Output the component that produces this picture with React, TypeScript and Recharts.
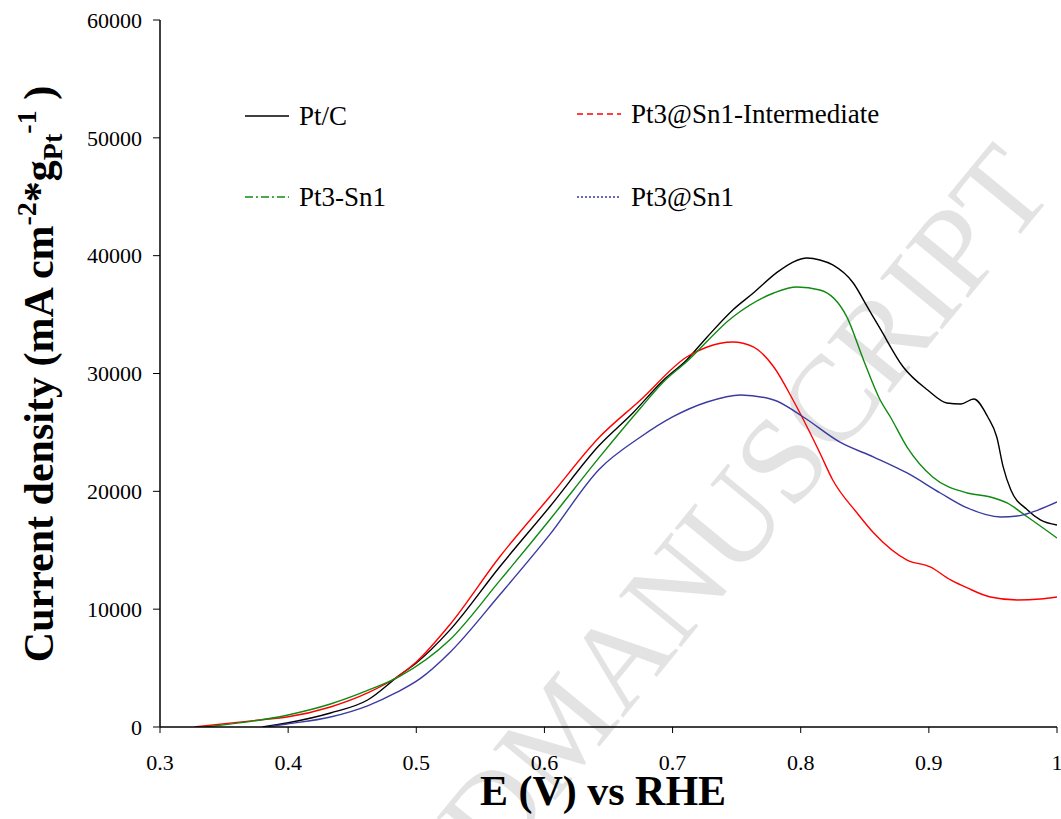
import { LineChart, Line, XAxis, YAxis } from "recharts";

// E (V vs RHE), current density
const ptC: [number, number][] = [
  [0.38, 0], [0.399, 340], [0.433, 1190], [0.462, 2290], [0.487, 4400], [0.5, 5430],
  [0.526, 8200], [0.565, 13580], [0.604, 18670], [0.643, 23930], [0.669, 26650],
  [0.693, 29450], [0.711, 31150], [0.727, 33100], [0.747, 35390], [0.763, 36830],
  [0.782, 38620], [0.794, 39460], [0.805, 39800], [0.815, 39630], [0.825, 39210],
  [0.841, 37680], [0.852, 35650], [0.862, 33800], [0.88, 30550], [0.899, 28600],
  [0.914, 27500], [0.925, 27410], [0.935, 27840], [0.946, 26310], [0.953, 24610],
  [0.958, 22070], [0.964, 20110], [0.977, 18420], [0.987, 17570], [1.0, 17140],
];

const pt3Sn1Inter: [number, number][] = [
  [0.327, 0], [0.378, 600], [0.399, 850], [0.433, 1700], [0.462, 2890], [0.485, 4240],
  [0.5, 5520], [0.526, 8660], [0.565, 14430], [0.604, 19520], [0.643, 24610],
  [0.675, 27750], [0.711, 31400], [0.727, 32250], [0.747, 32670], [0.763, 32250],
  [0.779, 30550], [0.794, 27750], [0.805, 25460], [0.815, 23250], [0.825, 20960],
  [0.844, 18160], [0.857, 16460], [0.883, 14170], [0.901, 13580], [0.917, 12480],
  [0.93, 11800], [0.948, 11030], [0.969, 10780], [0.987, 10860], [1.0, 11030],
];

const pt3Sn1: [number, number][] = [
  [0.335, 0], [0.399, 1000], [0.433, 1950], [0.462, 3100], [0.487, 4300], [0.526, 7380],
  [0.565, 12400], [0.604, 17570], [0.643, 22900], [0.675, 27070], [0.693, 29300],
  [0.711, 31000], [0.747, 34800], [0.779, 36830], [0.797, 37340], [0.815, 37090],
  [0.836, 34800], [0.849, 31150], [0.862, 27750], [0.87, 26310], [0.883, 23760],
  [0.903, 21220], [0.93, 19860], [0.948, 19520], [0.961, 19010], [0.977, 17820],
  [1.0, 16040],
];

const pt3AtSn1: [number, number][] = [
  [0.383, 0], [0.399, 250], [0.433, 850], [0.462, 1800], [0.485, 2950], [0.503, 4100],
  [0.526, 6300], [0.565, 11200], [0.604, 16300], [0.643, 21900], [0.675, 24610],
  [0.7, 26310], [0.727, 27580], [0.753, 28180], [0.779, 27750], [0.802, 26310],
  [0.831, 24150], [0.857, 22910], [0.883, 21560], [0.909, 19860], [0.93, 18590],
  [0.956, 17820], [0.969, 17910], [0.981, 18250], [1.0, 19100],
];

const xTicks = [0.3, 0.4, 0.5, 0.6, 0.7, 0.8, 0.9, 1.0];
const yTicks = [0, 10000, 20000, 30000, 40000, 50000, 60000];

const series = [
  { name: "Pt/C", data: ptC, color: "#000000", dash: undefined, lx: 245, ly: 116 },
  { name: "Pt3@Sn1-Intermediate", data: pt3Sn1Inter, color: "#ff0000", dash: "6 4", lx: 577, ly: 114 },
  { name: "Pt3-Sn1", data: pt3Sn1, color: "#108a10", dash: "8 3 2 3", lx: 245, ly: 197 },
  { name: "Pt3@Sn1", data: pt3AtSn1, color: "#3a3aa0", dash: "2 2", lx: 577, ly: 197 },
];

const serif = "'Liberation Serif', 'Times New Roman', serif";
const toRows = (arr: [number, number][]) => arr.map(([e, j]) => ({ e, j }));

const YTitle = () => (
  <text
    transform="rotate(-90 53 374)"
    x={53}
    y={374}
    textAnchor="middle"
    fontFamily={serif}
    fontWeight="bold"
    fontSize={42}
    fill="#000"
  >
    Current density (mA cm
    <tspan dy={-17} fontSize={28}>-2</tspan>
    <tspan dy={17}>*g</tspan>
    <tspan dy={9} fontSize={28}>Pt</tspan>
    <tspan dy={-26} fontSize={28}>-1</tspan>
    <tspan dy={17}> )</tspan>
  </text>
);

const XTitle = () => (
  <text x={603} y={805} textAnchor="middle" fontFamily={serif} fontWeight="bold" fontSize={42} fill="#000">
    E (V) vs RHE
  </text>
);

export default function App() {
  const tickStyle = { fontSize: 22, fill: "#000", fontFamily: serif };
  return (
    <div style={{ position: "absolute", left: 0, top: 0, width: 1061, height: 819, background: "#fff" }}>
      <svg width={1061} height={819} style={{ position: "absolute", left: 0, top: 0 }}>
        <g transform="rotate(-50.6 553 803)" fontFamily={serif} fontSize={123} fill="#e3e3e3">
          <text x={553} y={803} textAnchor="end">
            ACCEPTED{" "}
          </text>
          <text x={553} y={803}>
            MANUSCRIPT
          </text>
        </g>
        {series.map((s) => (
          <g key={s.name}>
            <line x1={s.lx} x2={s.lx + 44} y1={s.ly} y2={s.ly} stroke={s.color} strokeWidth={1.5} strokeDasharray={s.dash} />
            <text x={s.lx + 54} y={s.ly + 9} fontFamily={serif} fontSize={27} fill="#000">
              {s.name}
            </text>
          </g>
        ))}
      </svg>
      <div style={{ position: "absolute", left: 0, top: 0 }}>
        <LineChart width={1061} height={819} margin={{ top: 20, right: 4, left: 0, bottom: 0 }} style={{ fontFamily: serif }}>
          <XAxis
            xAxisId="b"
            dataKey="e"
            type="number"
            domain={[0.3, 1]}
            ticks={xTicks}
            interval={0}
            allowDataOverflow
            height={92}
            tickSize={6}
            tickMargin={21}
            tick={tickStyle}
            tickFormatter={(v: number) => (v === 1 ? "1" : v.toFixed(1))}
            axisLine={{ stroke: "#000", strokeWidth: 1.5 }}
            tickLine={{ stroke: "#000" }}
            label={<XTitle />}
          />
          <XAxis
            xAxisId="t"
            dataKey="e"
            type="number"
            orientation="top"
            domain={[0.3, 1]}
            height={0}
            tick={false}
            tickLine={false}
            axisLine={{ stroke: "#000", strokeWidth: 1.5 }}
          />
          <YAxis
            yAxisId="l"
            type="number"
            domain={[0, 60000]}
            ticks={yTicks}
            interval={0}
            allowDataOverflow
            width={160}
            tickSize={7}
            tickMargin={11}
            tick={tickStyle}
            axisLine={{ stroke: "#000", strokeWidth: 1.5 }}
            tickLine={{ stroke: "#000" }}
            label={<YTitle />}
          />
          <YAxis
            yAxisId="r"
            type="number"
            orientation="right"
            domain={[0, 60000]}
            width={0}
            tick={false}
            tickLine={false}
            axisLine={{ stroke: "#000", strokeWidth: 1.5 }}
          />
          {series.map((s) => (
            <Line
              key={s.name}
              xAxisId="b"
              yAxisId="l"
              data={toRows(s.data)}
              dataKey="j"
              name={s.name}
              type="monotone"
              stroke={s.color}
              strokeWidth={1.4}
              dot={false}
              activeDot={false}
              isAnimationActive={false}
            />
          ))}
        </LineChart>
      </div>
    </div>
  );
}
